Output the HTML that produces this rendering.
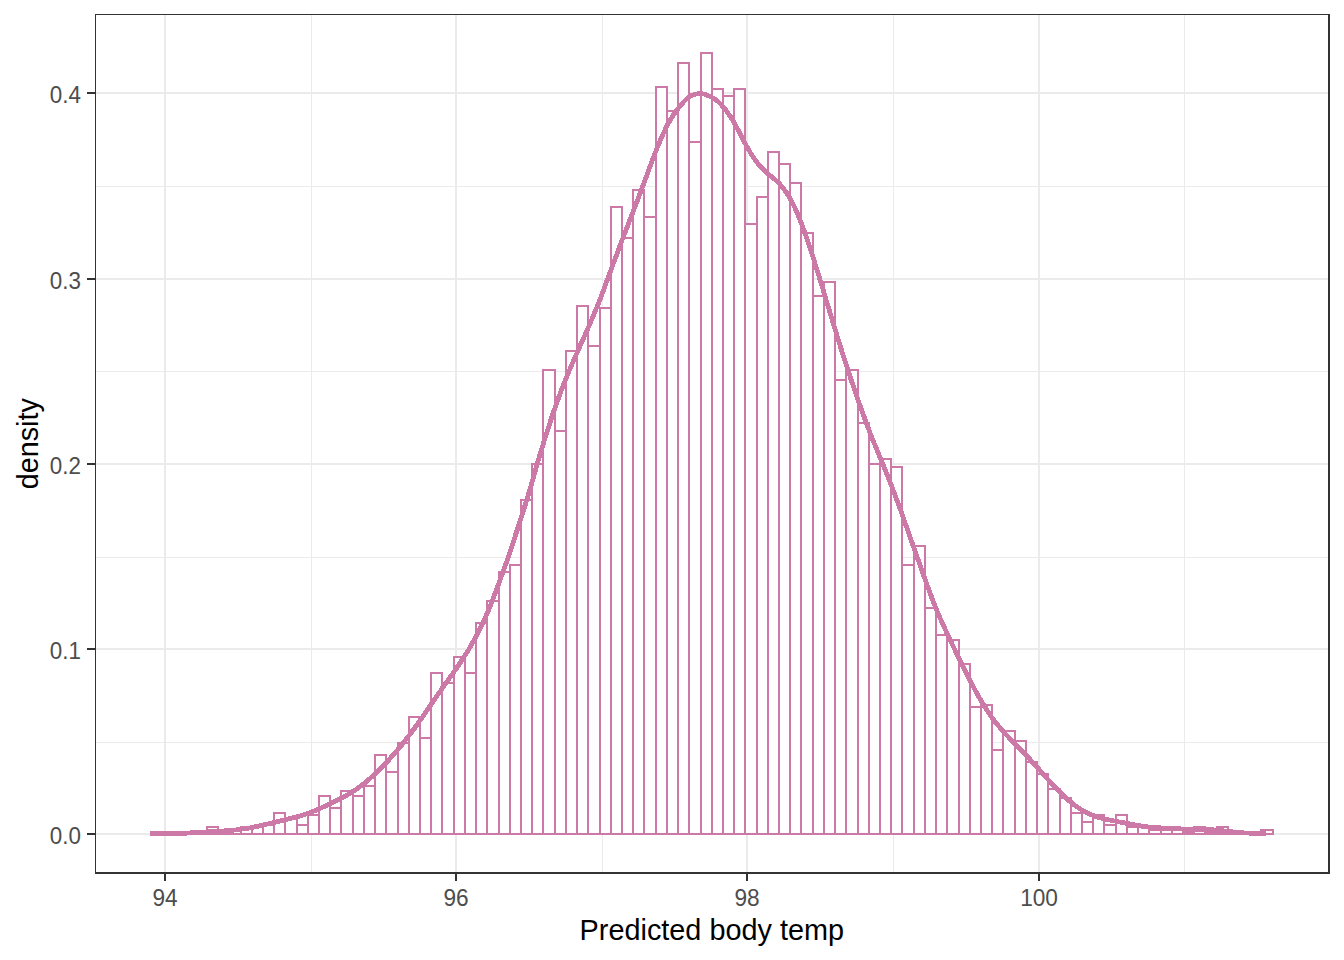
<!DOCTYPE html>
<html lang="en"><head><meta charset="utf-8"><title>Predicted body temp density</title>
<style>html,body{margin:0;padding:0;background:#fff;}body{width:1344px;height:960px;overflow:hidden;}svg{display:block;}text{font-family:"Liberation Sans",sans-serif;}</style></head><body>
<svg width="1344" height="960" viewBox="0 0 1344 960">
<rect x="0" y="0" width="1344" height="960" fill="#ffffff"/>
<g fill="#EBEBEB" shape-rendering="crispEdges">
<rect x="95" width="1235" y="742" height="1"/>
<rect x="95" width="1235" y="557" height="1"/>
<rect x="95" width="1235" y="371" height="1"/>
<rect x="95" width="1235" y="186" height="1"/>
<rect y="14" height="860" x="311" width="1"/>
<rect y="14" height="860" x="602" width="1"/>
<rect y="14" height="860" x="893" width="1"/>
<rect y="14" height="860" x="1184" width="1"/>
<rect x="95" width="1235" y="833" height="2"/>
<rect x="95" width="1235" y="648" height="2"/>
<rect x="95" width="1235" y="463" height="2"/>
<rect x="95" width="1235" y="278" height="2"/>
<rect x="95" width="1235" y="92" height="2"/>
<rect y="14" height="860" x="164" width="2"/>
<rect y="14" height="860" x="455" width="2"/>
<rect y="14" height="860" x="746" width="2"/>
<rect y="14" height="860" x="1038" width="2"/>
</g>
<g fill="#ffffff" stroke="#CC79A7" stroke-width="2" stroke-linejoin="miter" shape-rendering="crispEdges">
<rect x="151" y="832" width="11" height="2"/>
<line x1="161" x2="174" y1="834" y2="834"/>
<rect x="173" y="832" width="11" height="2"/>
<rect x="184" y="832" width="12" height="2"/>
<rect x="196" y="832" width="11" height="2"/>
<rect x="207" y="827" width="11" height="7"/>
<rect x="218" y="832" width="11" height="2"/>
<rect x="229" y="830" width="12" height="4"/>
<rect x="241" y="827" width="11" height="7"/>
<rect x="252" y="827" width="11" height="7"/>
<rect x="263" y="825" width="11" height="9"/>
<rect x="274" y="813" width="11" height="21"/>
<rect x="285" y="818" width="12" height="16"/>
<rect x="297" y="825" width="11" height="9"/>
<rect x="308" y="815" width="11" height="19"/>
<rect x="319" y="796" width="11" height="38"/>
<rect x="330" y="808" width="11" height="26"/>
<rect x="341" y="791" width="12" height="43"/>
<rect x="353" y="796" width="11" height="38"/>
<rect x="364" y="786" width="11" height="48"/>
<rect x="375" y="755" width="11" height="79"/>
<rect x="386" y="772" width="12" height="62"/>
<rect x="398" y="743" width="11" height="91"/>
<rect x="409" y="717" width="11" height="117"/>
<rect x="420" y="738" width="11" height="96"/>
<rect x="431" y="673" width="11" height="161"/>
<rect x="442" y="683" width="12" height="151"/>
<rect x="454" y="657" width="11" height="177"/>
<rect x="465" y="673" width="11" height="161"/>
<rect x="476" y="623" width="11" height="211"/>
<rect x="487" y="601" width="12" height="233"/>
<rect x="499" y="572" width="11" height="262"/>
<rect x="510" y="565" width="11" height="269"/>
<rect x="521" y="500" width="11" height="334"/>
<rect x="532" y="464" width="11" height="370"/>
<rect x="543" y="370" width="12" height="464"/>
<rect x="555" y="431" width="11" height="403"/>
<rect x="566" y="351" width="11" height="483"/>
<rect x="577" y="306" width="11" height="528"/>
<rect x="588" y="346" width="12" height="488"/>
<rect x="600" y="308" width="11" height="526"/>
<rect x="611" y="207" width="11" height="627"/>
<rect x="622" y="238" width="11" height="596"/>
<rect x="633" y="190" width="11" height="644"/>
<rect x="644" y="217" width="12" height="617"/>
<rect x="656" y="87" width="11" height="747"/>
<rect x="667" y="111" width="11" height="723"/>
<rect x="678" y="63" width="11" height="771"/>
<rect x="689" y="142" width="12" height="692"/>
<rect x="701" y="53" width="11" height="781"/>
<rect x="712" y="89" width="11" height="745"/>
<rect x="723" y="96" width="11" height="738"/>
<rect x="734" y="89" width="11" height="745"/>
<rect x="745" y="224" width="12" height="610"/>
<rect x="757" y="197" width="11" height="637"/>
<rect x="768" y="152" width="11" height="682"/>
<rect x="779" y="164" width="11" height="670"/>
<rect x="790" y="183" width="11" height="651"/>
<rect x="801" y="233" width="12" height="601"/>
<rect x="813" y="296" width="11" height="538"/>
<rect x="824" y="282" width="11" height="552"/>
<rect x="835" y="380" width="11" height="454"/>
<rect x="846" y="370" width="12" height="464"/>
<rect x="858" y="423" width="11" height="411"/>
<rect x="869" y="464" width="11" height="370"/>
<rect x="880" y="459" width="11" height="375"/>
<rect x="891" y="467" width="11" height="367"/>
<rect x="902" y="565" width="12" height="269"/>
<rect x="914" y="546" width="11" height="288"/>
<rect x="925" y="608" width="11" height="226"/>
<rect x="936" y="635" width="11" height="199"/>
<rect x="947" y="640" width="12" height="194"/>
<rect x="959" y="664" width="11" height="170"/>
<rect x="970" y="707" width="11" height="127"/>
<rect x="981" y="705" width="11" height="129"/>
<rect x="992" y="750" width="11" height="84"/>
<rect x="1003" y="731" width="12" height="103"/>
<rect x="1015" y="741" width="11" height="93"/>
<rect x="1026" y="762" width="11" height="72"/>
<rect x="1037" y="774" width="11" height="60"/>
<rect x="1048" y="789" width="12" height="45"/>
<rect x="1060" y="798" width="11" height="36"/>
<rect x="1071" y="813" width="11" height="21"/>
<rect x="1082" y="822" width="11" height="12"/>
<rect x="1093" y="815" width="11" height="19"/>
<rect x="1104" y="825" width="12" height="9"/>
<rect x="1116" y="815" width="11" height="19"/>
<rect x="1127" y="827" width="11" height="7"/>
<rect x="1138" y="827" width="11" height="7"/>
<rect x="1149" y="830" width="12" height="4"/>
<rect x="1161" y="830" width="11" height="4"/>
<rect x="1172" y="830" width="11" height="4"/>
<rect x="1183" y="832" width="11" height="2"/>
<rect x="1194" y="827" width="11" height="7"/>
<rect x="1205" y="832" width="12" height="2"/>
<rect x="1217" y="827" width="11" height="7"/>
<rect x="1228" y="832" width="11" height="2"/>
<line x1="1238" x2="1251" y1="834" y2="834"/>
<line x1="1249" x2="1262" y1="834" y2="834"/>
<rect x="1261" y="830" width="12" height="4"/>
</g>
<path d="M150.0,833.5 L152.2,833.5 L154.4,833.5 L156.6,833.5 L158.7,833.5 L160.9,833.5 L163.1,833.5 L165.3,833.5 L167.5,833.5 L169.7,833.5 L171.8,833.5 L174.0,833.5 L176.2,833.5 L178.4,833.5 L180.6,833.5 L182.8,833.3 L184.9,833.2 L187.1,833.1 L189.3,833.0 L191.5,832.8 L193.7,832.7 L195.9,832.5 L198.0,832.4 L200.2,832.3 L202.4,832.1 L204.6,832.0 L206.8,831.9 L209.0,831.7 L211.2,831.6 L213.3,831.5 L215.5,831.4 L217.7,831.3 L219.9,831.2 L222.1,831.1 L224.3,830.9 L226.4,830.8 L228.6,830.6 L230.8,830.4 L233.0,830.2 L235.2,830.0 L237.4,829.8 L239.5,829.5 L241.7,829.2 L243.9,828.9 L246.1,828.5 L248.3,828.2 L250.5,827.8 L252.6,827.3 L254.8,826.9 L257.0,826.4 L259.2,825.9 L261.4,825.4 L263.6,824.9 L265.7,824.4 L267.9,823.9 L270.1,823.4 L272.3,822.9 L274.5,822.3 L276.7,821.8 L278.9,821.3 L281.0,820.7 L283.2,820.2 L285.4,819.7 L287.6,819.1 L289.8,818.6 L292.0,818.0 L294.1,817.5 L296.3,816.9 L298.5,816.3 L300.7,815.7 L302.9,815.0 L305.1,814.3 L307.2,813.6 L309.4,812.8 L311.6,812.0 L313.8,811.1 L316.0,810.2 L318.2,809.3 L320.3,808.3 L322.5,807.3 L324.7,806.3 L326.9,805.3 L329.1,804.2 L331.3,803.2 L333.5,802.1 L335.6,801.0 L337.8,800.0 L340.0,798.8 L342.2,797.7 L344.4,796.5 L346.6,795.3 L348.7,794.0 L350.9,792.7 L353.1,791.3 L355.3,789.9 L357.5,788.4 L359.7,786.8 L361.8,785.2 L364.0,783.5 L366.2,781.7 L368.4,779.9 L370.6,778.0 L372.8,776.0 L374.9,774.0 L377.1,771.9 L379.3,769.8 L381.5,767.6 L383.7,765.4 L385.9,763.1 L388.1,760.7 L390.2,758.3 L392.4,755.9 L394.6,753.4 L396.8,750.8 L399.0,748.2 L401.2,745.6 L403.3,742.8 L405.5,740.1 L407.7,737.2 L409.9,734.4 L412.1,731.4 L414.3,728.5 L416.4,725.4 L418.6,722.4 L420.8,719.3 L423.0,716.2 L425.2,713.0 L427.4,709.8 L429.5,706.7 L431.7,703.5 L433.9,700.3 L436.1,697.1 L438.3,694.0 L440.5,690.9 L442.6,687.7 L444.8,684.7 L447.0,681.6 L449.2,678.5 L451.4,675.4 L453.6,672.4 L455.8,669.3 L457.9,666.1 L460.1,662.9 L462.3,659.6 L464.5,656.2 L466.7,652.8 L468.9,649.2 L471.0,645.5 L473.2,641.6 L475.4,637.6 L477.6,633.5 L479.8,629.2 L482.0,624.8 L484.1,620.1 L486.3,615.3 L488.5,610.2 L490.7,604.7 L492.9,599.0 L495.1,593.3 L497.2,587.6 L499.4,581.7 L501.6,575.7 L503.8,569.7 L506.0,563.6 L508.2,557.4 L510.4,550.9 L512.5,544.3 L514.7,537.6 L516.9,530.8 L519.1,524.0 L521.3,517.2 L523.5,510.4 L525.6,503.6 L527.8,496.6 L530.0,489.1 L532.2,481.5 L534.4,473.9 L536.6,466.4 L538.7,458.9 L540.9,451.5 L543.1,444.3 L545.3,437.2 L547.5,430.3 L549.7,423.6 L551.8,417.0 L554.0,410.6 L556.2,404.3 L558.4,398.3 L560.6,392.3 L562.8,386.6 L565.0,381.1 L567.1,375.7 L569.3,370.5 L571.5,365.4 L573.7,360.3 L575.9,355.3 L578.1,350.4 L580.2,345.5 L582.4,340.6 L584.6,335.8 L586.8,330.8 L589.0,325.9 L591.2,320.8 L593.3,315.7 L595.5,310.5 L597.7,305.2 L599.9,299.7 L602.1,294.0 L604.3,288.1 L606.4,282.1 L608.6,276.2 L610.8,270.3 L613.0,264.4 L615.2,258.5 L617.4,252.7 L619.5,246.9 L621.7,241.1 L623.9,235.4 L626.1,229.7 L628.3,224.1 L630.5,218.4 L632.7,212.7 L634.8,207.1 L637.0,201.4 L639.2,195.6 L641.4,189.8 L643.6,184.0 L645.8,178.2 L647.9,172.3 L650.1,166.4 L652.3,160.4 L654.5,154.6 L656.7,149.0 L658.9,143.7 L661.0,138.6 L663.2,133.7 L665.4,129.0 L667.6,124.7 L669.8,120.7 L672.0,117.2 L674.1,113.9 L676.3,110.9 L678.5,108.1 L680.7,105.3 L682.9,102.7 L685.1,100.4 L687.3,98.4 L689.4,96.8 L691.6,95.6 L693.8,94.7 L696.0,94.1 L698.2,93.8 L700.4,93.6 L702.5,93.8 L704.7,94.3 L706.9,95.1 L709.1,96.1 L711.3,97.2 L713.5,98.3 L715.6,99.7 L717.8,101.4 L720.0,103.4 L722.2,105.8 L724.4,108.4 L726.6,111.2 L728.7,114.2 L730.9,117.4 L733.1,121.0 L735.3,124.9 L737.5,128.9 L739.7,133.0 L741.9,137.2 L744.0,141.3 L746.2,145.3 L748.4,149.2 L750.6,153.0 L752.8,156.4 L755.0,159.7 L757.1,162.6 L759.3,165.3 L761.5,167.7 L763.7,169.9 L765.9,171.9 L768.1,173.8 L770.2,175.6 L772.4,177.4 L774.6,179.2 L776.8,181.2 L779.0,183.3 L781.2,185.6 L783.3,188.3 L785.5,191.2 L787.7,194.5 L789.9,198.1 L792.1,202.1 L794.3,206.5 L796.5,211.3 L798.6,216.4 L800.8,221.9 L803.0,227.7 L805.2,233.7 L807.4,240.0 L809.6,246.6 L811.7,253.2 L813.9,260.1 L816.1,267.1 L818.3,274.1 L820.5,281.2 L822.7,288.4 L824.8,295.6 L827.0,302.8 L829.2,310.0 L831.4,317.2 L833.6,324.4 L835.8,331.5 L837.9,338.6 L840.1,345.6 L842.3,352.5 L844.5,359.4 L846.7,366.2 L848.9,372.9 L851.0,379.5 L853.2,385.9 L855.4,392.3 L857.6,398.6 L859.8,404.9 L862.0,411.0 L864.2,417.1 L866.3,423.1 L868.5,428.9 L870.7,434.6 L872.9,440.1 L875.1,445.5 L877.3,450.8 L879.4,456.0 L881.6,461.3 L883.8,466.5 L886.0,471.8 L888.2,477.3 L890.4,482.8 L892.5,488.5 L894.7,494.3 L896.9,500.2 L899.1,506.1 L901.3,512.1 L903.5,518.3 L905.6,524.4 L907.8,530.6 L910.0,536.9 L912.2,543.1 L914.4,549.4 L916.6,555.6 L918.8,561.7 L920.9,567.8 L923.1,574.0 L925.3,580.1 L927.5,586.2 L929.7,592.2 L931.9,598.0 L934.0,603.7 L936.2,609.1 L938.4,614.2 L940.6,619.2 L942.8,624.1 L945.0,628.8 L947.1,633.5 L949.3,638.1 L951.5,642.8 L953.7,647.4 L955.9,652.0 L958.1,656.6 L960.2,661.1 L962.4,665.5 L964.6,669.9 L966.8,674.2 L969.0,678.5 L971.2,682.7 L973.4,686.8 L975.5,690.9 L977.7,694.8 L979.9,698.6 L982.1,702.3 L984.3,705.9 L986.5,709.4 L988.6,712.7 L990.8,715.9 L993.0,718.9 L995.2,721.8 L997.4,724.6 L999.6,727.2 L1001.7,729.8 L1003.9,732.2 L1006.1,734.6 L1008.3,736.9 L1010.5,739.2 L1012.7,741.4 L1014.8,743.6 L1017.0,745.9 L1019.2,748.1 L1021.4,750.3 L1023.6,752.6 L1025.8,754.9 L1027.9,757.2 L1030.1,759.5 L1032.3,761.9 L1034.5,764.3 L1036.7,766.8 L1038.9,769.2 L1041.1,771.7 L1043.2,774.1 L1045.4,776.6 L1047.6,779.0 L1049.8,781.5 L1052.0,783.8 L1054.2,786.2 L1056.3,788.5 L1058.5,790.8 L1060.7,793.0 L1062.9,795.1 L1065.1,797.1 L1067.3,799.1 L1069.4,801.0 L1071.6,802.8 L1073.8,804.6 L1076.0,806.2 L1078.2,807.7 L1080.4,809.1 L1082.5,810.5 L1084.7,811.7 L1086.9,812.8 L1089.1,813.9 L1091.3,814.8 L1093.5,815.7 L1095.7,816.4 L1097.8,817.1 L1100.0,817.8 L1102.2,818.4 L1104.4,818.9 L1106.6,819.4 L1108.8,819.9 L1110.9,820.3 L1113.1,820.7 L1115.3,821.2 L1117.5,821.6 L1119.7,822.0 L1121.9,822.4 L1124.0,822.8 L1126.2,823.2 L1128.4,823.6 L1130.6,824.0 L1132.8,824.5 L1135.0,824.9 L1137.1,825.3 L1139.3,825.7 L1141.5,826.1 L1143.7,826.4 L1145.9,826.7 L1148.1,826.9 L1150.3,827.2 L1152.4,827.3 L1154.6,827.5 L1156.8,827.6 L1159.0,827.8 L1161.2,827.9 L1163.4,828.0 L1165.5,828.2 L1167.7,828.3 L1169.9,828.5 L1172.1,828.6 L1174.3,828.7 L1176.5,828.8 L1178.6,828.8 L1180.8,828.9 L1183.0,828.9 L1185.2,829.0 L1187.4,829.0 L1189.6,829.0 L1191.7,829.0 L1193.9,829.1 L1196.1,829.1 L1198.3,829.1 L1200.5,829.1 L1202.7,829.2 L1204.8,829.3 L1207.0,829.4 L1209.2,829.6 L1211.4,829.8 L1213.6,829.9 L1215.8,830.1 L1218.0,830.3 L1220.1,830.6 L1222.3,830.8 L1224.5,831.0 L1226.7,831.2 L1228.9,831.5 L1231.1,831.7 L1233.2,831.9 L1235.4,832.2 L1237.6,832.4 L1239.8,832.6 L1242.0,832.7 L1244.2,832.9 L1246.3,833.0 L1248.5,833.1 L1250.7,833.2 L1252.9,833.3 L1255.1,833.4 L1257.3,833.4 L1259.4,833.5 L1261.6,833.5 L1263.8,833.5 L1266.0,833.5" fill="none" stroke="#CC79A7" stroke-width="4.8" stroke-linejoin="round" stroke-linecap="butt" shape-rendering="crispEdges"/>
<g fill="#333333" shape-rendering="crispEdges">
<rect x="95" y="14" width="1" height="860"/>
<rect x="95" y="14" width="1235" height="1"/>
<rect x="1328" y="14" width="2" height="860"/>
<rect x="95" y="872" width="1235" height="2"/>
<rect x="87" width="8" y="833" height="2"/>
<rect x="87" width="8" y="648" height="2"/>
<rect x="87" width="8" y="463" height="2"/>
<rect x="87" width="8" y="278" height="2"/>
<rect x="87" width="8" y="92" height="2"/>
<rect y="874" height="7" x="164" width="2"/>
<rect y="874" height="7" x="455" width="2"/>
<rect y="874" height="7" x="746" width="2"/>
<rect y="874" height="7" x="1038" width="2"/>
</g>
<g fill="#4D4D4D" font-size="23.47px">
<text transform="translate(80.9,843.80) scale(0.955,1)" text-anchor="end">0.0</text>
<text transform="translate(80.9,658.80) scale(0.955,1)" text-anchor="end">0.1</text>
<text transform="translate(80.9,473.80) scale(0.955,1)" text-anchor="end">0.2</text>
<text transform="translate(80.9,288.80) scale(0.955,1)" text-anchor="end">0.3</text>
<text transform="translate(80.9,102.80) scale(0.955,1)" text-anchor="end">0.4</text>
<text transform="translate(165,906.0) scale(0.965,1)" text-anchor="middle">94</text>
<text transform="translate(456,906.0) scale(0.965,1)" text-anchor="middle">96</text>
<text transform="translate(747,906.0) scale(0.965,1)" text-anchor="middle">98</text>
<text transform="translate(1039,906.0) scale(0.965,1)" text-anchor="middle">100</text>
</g>
<text transform="translate(711.8,940.3) scale(0.983,1)" text-anchor="middle" font-size="29.33px" fill="#000000">Predicted body temp</text>
<text transform="translate(37.5,443.75) rotate(-90) scale(0.98,1)" text-anchor="middle" font-size="29.33px" fill="#000000">density</text>
</svg></body></html>
